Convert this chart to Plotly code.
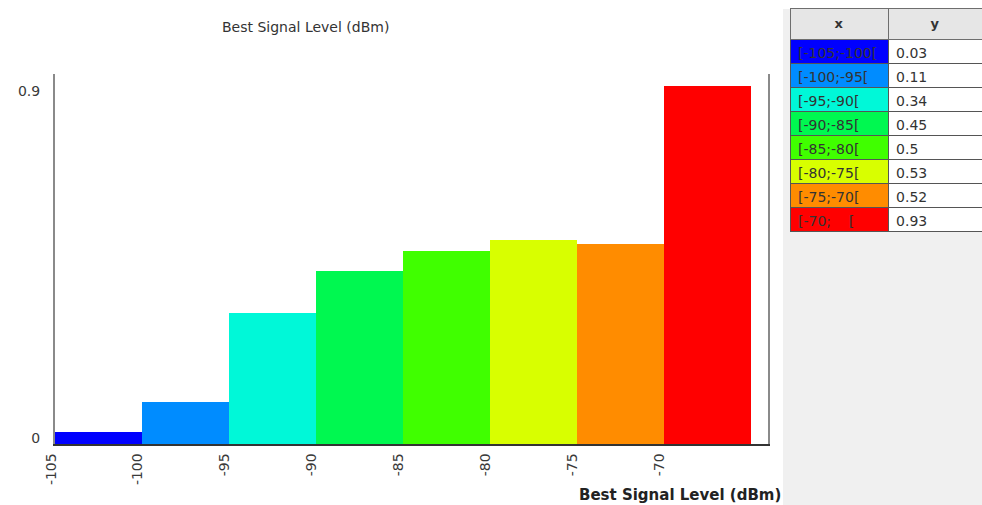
import plotly.graph_objects as go

bin_starts = [-105, -100, -95, -90, -85, -80, -75, -70]
bin_labels = ["[-105;-100[", "[-100;-95[", "[-95;-90[", "[-90;-85[",
              "[-85;-80[", "[-80;-75[", "[-75;-70[", "[-70;    ["]
values = [0.03, 0.11, 0.34, 0.45, 0.5, 0.53, 0.52, 0.93]
colors = ["#0000ff", "#008cff", "#00f8d8", "#00f850",
          "#40ff00", "#d8ff00", "#ff8c00", "#ff0000"]
x_ticks = [-105, -100, -95, -90, -85, -80, -75, -70]
y_ticks = [0, 0.9]
bin_width = 5

W, H = 982, 505
def px(x): return x / W
def py(y): return 1 - y / H

FONT = "DejaVu Sans"

fig = go.Figure()
fig.add_trace(go.Bar(
    x=bin_starts, y=values, width=bin_width, offset=0,
    marker=dict(color=colors, line=dict(width=0)),
    xaxis="x", yaxis="y", showlegend=False, hoverinfo="skip",
))

fig.add_trace(go.Table(
    domain=dict(x=[px(790), 1.0], y=[py(250), py(8)]),
    columnwidth=[97, 93],
    header=dict(values=["<b>x</b>", "<b>y</b>"],
                fill_color="#e6e6e6", line_color="#6e6e6e",
                align="center", height=12,
                font=dict(family=FONT, size=13, color="#333")),
    cells=dict(values=[bin_labels, [str(v) for v in values]],
               fill_color=[colors, ["#ffffff"] * len(values)],
               line_color="#555555",
               align="left", height=24,
               font=dict(family=FONT, size=14, color="#333")),
))

fig.update_layout(
    width=W, height=H,
    margin=dict(l=0, r=0, t=0, b=0),
    paper_bgcolor="#ffffff", plot_bgcolor="#ffffff",
    bargap=0,
    xaxis=dict(domain=[px(55), px(768)], range=[-105, -64],
               tickvals=x_ticks, ticktext=[str(v) for v in x_ticks],
               tickangle=-90, showgrid=False, zeroline=False,
               showline=True, linecolor="#333333", linewidth=1.5,
               ticks="", automargin=False,
               ticklabelshift=-4, ticklabelstandoff=2,
               tickfont=dict(family=FONT, size=14, color="#3a3a3a")),
    yaxis=dict(domain=[py(444), py(74)], range=[0, 0.96],
               tickvals=y_ticks, ticktext=["0", "0.9"],
               showgrid=False, zeroline=False,
               showline=True, mirror=True, linecolor="#8a8a8a", linewidth=2,
               ticks="", automargin=False,
               ticklabelshift=-6, ticklabelstandoff=10,
               tickfont=dict(family=FONT, size=14, color="#3a3a3a")),
    shapes=[dict(type="rect", xref="paper", yref="paper",
                 x0=px(783), x1=1.0, y0=0, y1=py(9),
                 fillcolor="#f0f0f0", line=dict(width=0), layer="below")],
    annotations=[
        dict(text="Best Signal Level (dBm)", xref="paper", yref="paper",
             x=px(305), y=py(27), xanchor="center", yanchor="middle",
             showarrow=False,
             font=dict(family=FONT, size=14, color="#333")),
        dict(text="<b>Best Signal Level (dBm)</b>", xref="paper", yref="paper",
             x=px(783), y=py(495), xanchor="right", yanchor="middle",
             showarrow=False,
             font=dict(family=FONT, size=15, color="#222")),
    ],
)

fig.write_html("out.html", config={"displayModeBar": False},
               post_script="document.body.style.margin='0';document.body.style.overflow='hidden';")
